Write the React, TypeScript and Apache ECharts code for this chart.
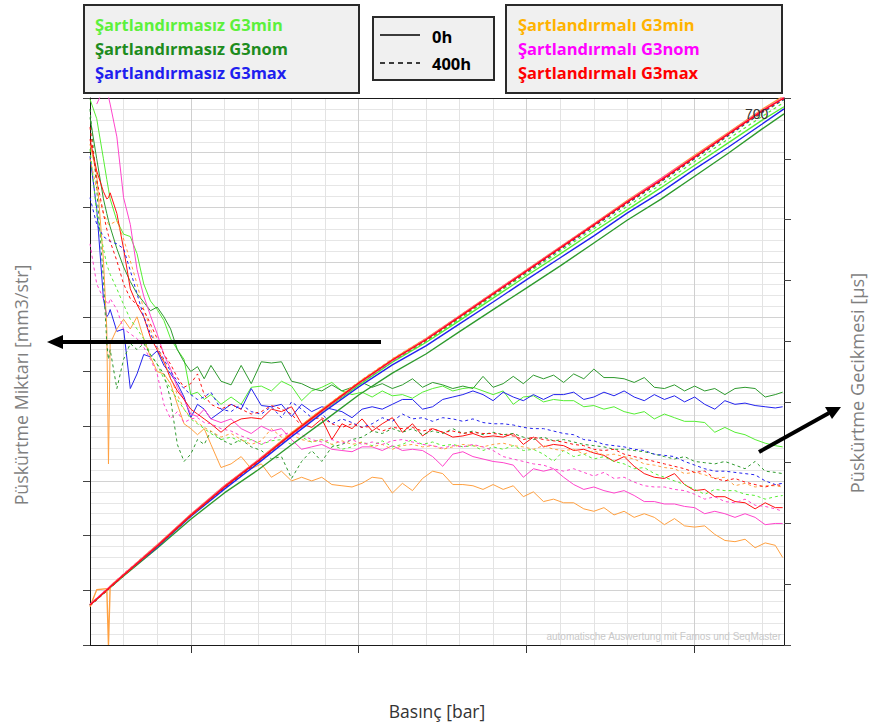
import React, { useEffect, useRef } from 'react';
import * as echarts from 'echarts';

// ---------- x values (Basınç, bar) ----------
const PRESSURE_BAR = [200,220,240,250,255,260,280,300,320,340,360,380,400,420,440,460,480,500,520,540,560,590,620,650,680,710,740,770,800,830,860,890,920,950,980,1010,1040,1070,1100,1130,1160,1190,1220,1250,1280,1310,1340,1370,1400,1430,1460,1490,1520,1550,1580,1610,1640,1670,1700,1730,1760,1790,1820,1850,1880,1910,1940,1970,2000,2030,2060,2090,2120,2150,2180,2210,2240,2262];
const QTY_PRESSURE = [200,220,250,255,260,300,400,500,600,700,800,900,1000,1100,1200,1300,1400,1500,1600,1700,1800,1900,2000,2100,2200,2266];

// ---------- Püskürtme Gecikmesi [µs] (right axis) ----------
const DELAY_SZ_MIN_0H = [699,683,650,633,625,617,599,588,586,572,547,533,526,517,502,493,485,456,458,452,456,448,454,448,462,463,459,467,463,451,459,462,466,459,456,458,454,459,455,456,453,458,461,463,459,461,462,459,456,459,448,454,455,450,452,451,451,446,447,444,446,442,440,442,436,440,437,434,434,433,425,429,425,423,419,416,414,413];
const DELAY_SZ_NOM_0H = [684,650,617,605,599,594,576,561,549,539,532,525,528,520,510,493,483,475,479,469,480,467,464,480,465,483,482,483,467,465,461,459,464,459,462,466,462,465,461,464,469,462,466,464,461,463,461,471,462,465,471,465,472,469,472,466,473,469,477,470,470,469,466,470,462,461,464,459,463,459,461,456,461,462,461,454,456,458];
const DELAY_SZ_MAX_0H = [652,609,535,520,522,526,508,510,461,473,489,487,492,480,473,465,454,437,448,444,436,442,448,444,461,447,446,448,438,448,442,446,444,442,437,444,446,444,448,452,452,444,446,452,454,456,459,456,451,458,454,451,456,452,456,456,458,452,454,458,455,459,454,451,456,452,455,450,454,448,444,451,448,449,447,446,445,446];
const DELAY_SL_MIN_0H = [662,637,567,510,399,498,510,518,510,520,502,487,475,473,465,448,432,428,423,428,415,396,399,405,395,399,388,393,385,388,385,388,382,381,380,383,388,387,375,383,377,387,393,391,382,382,381,378,382,378,381,372,376,368,370,367,367,362,360,363,357,360,355,358,355,349,354,348,347,348,341,336,335,337,330,334,332,322];
const DELAY_SL_NOM_0H = [null,695,707,706,701,695,668,618,596,559,537,521,506,489,477,462,452,440,438,444,436,433,436,428,424,430,426,428,419,411,413,415,411,410,409,413,413,410,414,410,411,410,405,397,407,409,405,403,401,400,398,388,395,393,395,388,382,378,380,377,375,377,373,368,368,366,366,364,363,358,360,358,355,358,355,349,350,350];
const DELAY_SL_MAX_0H = [666,640,623,617,618,622,605,576,543,530,520,503,493,483,469,459,452,444,440,436,432,425,432,436,437,436,444,442,446,432,429,436,419,432,428,436,426,432,437,425,432,422,428,425,421,422,424,421,422,421,424,415,421,413,415,414,410,411,408,406,401,405,397,391,388,387,391,382,377,378,372,372,368,367,362,367,363,363];
const DELAY_SZ_NOM_400H = [691,625,551,498,485,493,461,485,498,493,498,489,481,473,452,415,401,407,419,415,426,419,415,419,413,410,403,405,387,401,410,401,413,415,419,421,426,424,428,425,428,423,426,424,428,424,426,423,425,423,424,421,419,421,418,419,417,415,414,413,411,411,410,409,407,405,403,405,401,400,399,401,398,395,401,393,392,391];
const DELAY_SZ_MIN_400H = [658,605,576,563,559,555,543,530,518,510,502,489,481,469,461,452,444,436,432,428,424,419,421,417,419,415,418,419,415,421,417,419,415,411,413,417,414,418,413,415,419,415,417,414,415,413,414,410,413,411,414,410,411,407,401,410,405,407,403,405,401,399,395,396,391,388,385,382,378,374,378,377,377,374,373,370,372,373];
const DELAY_SZ_MAX_400H = [618,596,586,584,583,582,580,576,558,539,520,506,495,485,475,467,461,456,452,454,458,444,442,448,442,440,446,437,450,444,437,440,432,436,433,429,432,437,434,440,436,437,434,437,436,434,436,433,432,432,431,429,428,428,426,424,423,419,418,415,414,413,411,410,407,406,405,401,398,395,393,393,392,391,390,385,382,383];
const DELAY_SL_MIN_400H = [650,625,605,599,596,596,599,584,566,547,526,510,495,484,470,456,444,437,433,429,426,421,424,419,415,418,428,421,423,419,417,419,415,418,415,417,413,415,411,414,415,413,414,411,413,415,414,413,415,416,414,413,411,414,411,410,411,407,410,406,407,405,403,399,398,396,395,391,392,390,387,388,381,383,380,381,381,380];
const DELAY_SL_NOM_400H = [580,547,535,532,530,535,526,510,506,502,495,485,473,448,436,442,433,436,437,433,432,428,426,422,419,415,419,423,425,423,419,417,419,416,419,415,417,415,418,419,417,415,414,412,414,413,415,413,410,405,403,401,399,398,395,393,395,392,389,392,387,388,384,381,380,380,378,377,374,370,372,368,367,370,365,364,362,360];
const DELAY_SL_MAX_400H = [676,633,605,592,587,582,566,547,535,530,526,514,502,489,481,470,462,465,473,456,448,444,448,444,440,442,447,444,440,430,436,437,432,429,432,429,430,426,429,428,429,426,428,425,426,424,425,424,424,423,422,419,421,419,418,417,415,414,411,410,411,407,405,403,401,399,397,395,392,393,387,385,387,384,382,380,382,381];

// ---------- Püskürtme Miktarı (left axis) ----------
const QTY_SL_MAX_0H = [7.3,null,null,null,null,12.8,18.1,23.7,28.9,33.6,38.6,43.3,47.9,52.1,55.8,60.0,64.2,68.4,72.6,76.8,81.0,85.0,89.2,93.4,97.6,100.0];
const QTY_SL_NOM_0H = [7.4,null,null,null,null,12.9,18.2,23.8,29.0,33.7,38.5,43.2,47.8,52.0,55.9,60.1,64.3,68.5,72.7,76.9,81.1,85.2,89.3,93.5,97.7,100.1];
const QTY_SL_MIN_0H = [7.0,10.1,10.3,0,10.8,12.9,18.3,23.9,29.1,33.8,38.8,43.5,48.0,52.2,56.0,60.2,64.4,68.6,72.8,77.0,81.3,85.3,89.5,93.7,97.9,100.4];
const QTY_SZ_MIN_0H = [7.3,null,null,null,null,12.8,18.1,23.7,28.9,33.6,38.5,43.1,47.5,51.7,55.3,59.3,63.4,67.5,71.5,75.6,79.6,83.6,87.7,91.8,95.9,98.4];
const QTY_SZ_MAX_0H = [7.3,null,null,null,null,12.8,17.9,23.5,28.5,33.2,38.1,42.8,47.2,51.2,54.7,58.7,62.7,66.8,70.8,74.8,79.0,82.8,87.0,91.0,95.2,98.0];
const QTY_SZ_NOM_0H = [7.3,null,null,null,null,12.6,17.7,23.0,27.8,32.0,36.6,41.1,45.7,49.7,53.2,57.3,61.3,65.3,69.3,73.5,77.7,81.5,85.7,89.9,94.3,97.1];
const QTY_SL_MAX_400H = [7.2,null,null,null,null,12.7,18.0,23.6,28.8,33.5,38.5,43.2,47.8,52.0,55.7,59.9,64.1,68.3,72.5,76.7,80.9,84.9,89.1,93.3,97.5,99.9];
const QTY_SL_NOM_400H = [7.3,null,null,null,null,12.9,18.2,23.7,29.0,33.6,38.7,43.4,48.0,52.2,55.9,60.1,64.3,68.5,72.7,76.9,81.1,85.1,89.3,93.5,97.7,100.1];
const QTY_SL_MIN_400H = [7.4,null,null,null,null,13.0,18.3,23.8,29.1,33.7,38.8,43.5,48.1,52.3,56.0,60.2,64.4,68.6,72.8,77.0,81.2,85.2,89.4,93.6,97.8,100.2];
const QTY_SZ_MIN_400H = [7.3,null,null,null,null,12.8,18.1,23.7,28.9,33.6,38.6,43.2,47.7,51.9,55.5,59.6,63.8,67.9,72.0,76.1,80.2,84.2,88.4,92.5,96.6,99.2];
const QTY_SZ_MAX_400H = [7.3,null,null,null,null,12.8,18.0,23.6,28.8,33.5,38.5,43.2,47.8,51.9,55.6,59.8,64.0,68.2,72.4,76.6,80.8,84.8,89.0,93.2,97.4,99.8];
const QTY_SZ_NOM_400H = [7.2,null,null,null,null,12.7,18.0,23.6,28.8,33.5,38.5,43.2,47.7,51.9,55.6,59.7,63.9,68.1,72.3,76.5,80.7,84.7,88.9,93.1,97.3,99.7];

// ---------- axis ticks ----------
const X_MAJOR_TICKS = [500, 1000, 1500, 2000];

// ---------- legend texts ----------
const LEGEND_LEFT = ['Şartlandırmasız G3min', 'Şartlandırmasız G3nom', 'Şartlandırmasız G3max'];
const LEGEND_RIGHT = ['Şartlandırmalı G3min', 'Şartlandırmalı G3nom', 'Şartlandırmalı G3max'];
const LEGEND_MID = ['0h', '400h'];

const C = {
  lgreen: '#55EE33',
  dgreen: '#2E9A2E',
  blue: '#2222EE',
  orange: '#FFA040',
  magenta: '#FF44CC',
  red: '#FF1010',
};
const LEGEND_COLORS_LEFT = ['#5DF03C', '#1E8C1E', '#1F1FEF'];
const LEGEND_COLORS_RIGHT = ['#FFB300', '#FF00FF', '#FF0000'];

function pairs(xs: number[], ys: (number | null)[]) {
  const out: number[][] = [];
  for (let i = 0; i < xs.length; i++) {
    const v = ys[i];
    if (v !== null && v !== undefined) out.push([xs[i], v]);
  }
  return out;
}

const DASH = [3, 3];

export default function App() {
  const ref = useRef<HTMLDivElement>(null);
  useEffect(() => {
    document.body.style.margin = '0';
    const chart = echarts.init(ref.current!, null, { renderer: 'svg' });

    const fall = [
      { name: 'Şartlandırmasız G3min 0h', d: DELAY_SZ_MIN_0H, c: C.lgreen, dash: false },
      { name: 'Şartlandırmasız G3nom 0h', d: DELAY_SZ_NOM_0H, c: C.dgreen, dash: false },
      { name: 'Şartlandırmasız G3max 0h', d: DELAY_SZ_MAX_0H, c: C.blue, dash: false },
      { name: 'Şartlandırmalı G3min 0h', d: DELAY_SL_MIN_0H, c: C.orange, dash: false },
      { name: 'Şartlandırmalı G3nom 0h', d: DELAY_SL_NOM_0H, c: C.magenta, dash: false },
      { name: 'Şartlandırmalı G3max 0h', d: DELAY_SL_MAX_0H, c: C.red, dash: false },
      { name: 'Şartlandırmasız G3min 400h', d: DELAY_SZ_MIN_400H, c: C.lgreen, dash: true },
      { name: 'Şartlandırmasız G3nom 400h', d: DELAY_SZ_NOM_400H, c: C.dgreen, dash: true },
      { name: 'Şartlandırmasız G3max 400h', d: DELAY_SZ_MAX_400H, c: C.blue, dash: true },
      { name: 'Şartlandırmalı G3min 400h', d: DELAY_SL_MIN_400H, c: C.orange, dash: true },
      { name: 'Şartlandırmalı G3nom 400h', d: DELAY_SL_NOM_400H, c: C.magenta, dash: true },
      { name: 'Şartlandırmalı G3max 400h', d: DELAY_SL_MAX_400H, c: C.red, dash: true },
    ];
    const rise = [
      { name: 'Miktar SZ G3nom 0h', d: QTY_SZ_NOM_0H, c: C.dgreen, dash: false },
      { name: 'Miktar SZ G3max 0h', d: QTY_SZ_MAX_0H, c: C.blue, dash: false },
      { name: 'Miktar SZ G3min 0h', d: QTY_SZ_MIN_0H, c: C.lgreen, dash: false },
      { name: 'Miktar SZ G3nom 400h', d: QTY_SZ_NOM_400H, c: C.dgreen, dash: true },
      { name: 'Miktar SZ G3max 400h', d: QTY_SZ_MAX_400H, c: C.blue, dash: true },
      { name: 'Miktar SZ G3min 400h', d: QTY_SZ_MIN_400H, c: C.lgreen, dash: true },
      { name: 'Miktar SL G3min 400h', d: QTY_SL_MIN_400H, c: C.orange, dash: true },
      { name: 'Miktar SL G3nom 400h', d: QTY_SL_NOM_400H, c: C.magenta, dash: true },
      { name: 'Miktar SL G3max 400h', d: QTY_SL_MAX_400H, c: C.red, dash: true },
      { name: 'Miktar SL G3min 0h', d: QTY_SL_MIN_0H, c: C.orange, dash: false },
      { name: 'Miktar SL G3nom 0h', d: QTY_SL_NOM_0H, c: C.magenta, dash: false },
      { name: 'Miktar SL G3max 0h', d: QTY_SL_MAX_0H, c: C.red, dash: false },
    ];

    const series: any[] = [];
    fall.forEach((s) => {
      series.push({
        type: 'line', name: s.name, xAxisIndex: 0, yAxisIndex: 2,
        data: pairs(PRESSURE_BAR, s.d), symbol: 'none', silent: true, clip: true,
        lineStyle: { color: s.c, width: 1, type: s.dash ? DASH : 'solid' },
        itemStyle: { color: s.c }, z: 3,
      });
    });
    rise.forEach((s) => {
      series.push({
        type: 'line', name: s.name, xAxisIndex: 0, yAxisIndex: 0,
        data: pairs(QTY_PRESSURE, s.d), symbol: 'none', silent: true, clip: true,
        lineStyle: { color: s.c, width: s.dash ? 1.2 : 1.4, type: s.dash ? DASH : 'solid' },
        itemStyle: { color: s.c }, z: 3,
      });
    });

    const FONT = '"Open Sans", "Noto Sans", sans-serif';
    const elements: any[] = [];
    const box = (x: number, y: number, w: number, h: number) => ({
      type: 'rect', shape: { x, y, width: w, height: h }, z: 100,
      style: { fill: '#F0F0F0', stroke: '#2a2a2a', lineWidth: 2 },
    });
    elements.push(box(84, 5, 275, 88));
    elements.push(box(373, 17, 121, 63));
    elements.push(box(506, 5, 276, 88));
    LEGEND_LEFT.forEach((t, i) => {
      elements.push({
        type: 'text', z: 101, x: 95, y: 24 + i * 24,
        style: { text: t, fill: LEGEND_COLORS_LEFT[i], font: `bold 16.5px ${FONT}`, align: 'left', verticalAlign: 'middle', textAlign: 'left', textVerticalAlign: 'middle' },
      });
    });
    LEGEND_RIGHT.forEach((t, i) => {
      elements.push({
        type: 'text', z: 101, x: 518, y: 24 + i * 24,
        style: { text: t, fill: LEGEND_COLORS_RIGHT[i], font: `bold 16.5px ${FONT}`, align: 'left', verticalAlign: 'middle', textAlign: 'left', textVerticalAlign: 'middle' },
      });
    });
    elements.push({ type: 'line', z: 101, shape: { x1: 380, y1: 35, x2: 420, y2: 35 }, style: { stroke: '#000', lineWidth: 1.5 } });
    elements.push({ type: 'line', z: 101, shape: { x1: 380, y1: 63, x2: 420, y2: 63 }, style: { stroke: '#000', lineWidth: 1.5, lineDash: [5, 4] } });
    LEGEND_MID.forEach((t, i) => {
      elements.push({
        type: 'text', z: 101, x: 432, y: 36 + i * 27,
        style: { text: t, fill: '#000', font: `bold 16.5px ${FONT}`, align: 'left', verticalAlign: 'middle', textAlign: 'left', textVerticalAlign: 'middle' },
      });
    });
    elements.push({
      type: 'text', z: 50, x: 437, y: 711,
      style: { text: 'Basınç [bar]', fill: '#333', font: `17.5px ${FONT}`, align: 'center', verticalAlign: 'middle', textAlign: 'center', textVerticalAlign: 'middle' },
    });
    elements.push({
      type: 'text', z: 50, x: 21, y: 385, rotation: Math.PI / 2,
      style: { text: 'Püskürtme Miktarı [mm3/str]', fill: '#7F7F7F', font: `17.8px ${FONT}`, align: 'center', verticalAlign: 'middle', textAlign: 'center', textVerticalAlign: 'middle' },
    });
    elements.push({
      type: 'text', z: 50, x: 857, y: 383, rotation: Math.PI / 2,
      style: { text: 'Püskürtme Gecikmesi [µs]', fill: '#7F7F7F', font: `18.2px ${FONT}`, align: 'center', verticalAlign: 'middle', textAlign: 'center', textVerticalAlign: 'middle' },
    });
    elements.push({
      type: 'text', z: 50, x: 745, y: 114,
      style: { text: '700', fill: '#333', font: '14px "Liberation Sans", Arial, sans-serif', align: 'left', verticalAlign: 'middle', textAlign: 'left', textVerticalAlign: 'middle' },
    });
    elements.push({
      type: 'text', z: 50, x: 781, y: 636,
      style: { text: 'automatische Auswertung mit Famos und SeqMaster', fill: '#C8C8C8', font: '10px "Liberation Sans", Arial, sans-serif', align: 'right', verticalAlign: 'middle', textAlign: 'right', textVerticalAlign: 'middle' },
    });
    elements.push({ type: 'line', z: 60, shape: { x1: 381, y1: 342, x2: 60, y2: 342 }, style: { stroke: '#000', lineWidth: 4 } });
    elements.push({ type: 'polygon', z: 60, shape: { points: [[47, 342], [63, 335], [63, 349]] }, style: { fill: '#000' } });
    elements.push({ type: 'line', z: 60, shape: { x1: 759, y1: 452, x2: 829, y2: 413 }, style: { stroke: '#000', lineWidth: 4 } });
    elements.push({ type: 'polygon', z: 60, shape: { points: [[841, 407], [832, 419], [825, 407]] }, style: { fill: '#000' } });

    const hidden = { show: false };
    const option: any = {
      animation: false,
      backgroundColor: '#ffffff',
      grid: { left: 90, top: 98, width: 694, height: 547 },
      tooltip: { show: false },
      xAxis: [
        {
          type: 'value', min: 200, max: 2266, interval: 100, position: 'bottom', z: 0,
          axisLine: hidden, axisTick: hidden, axisLabel: hidden,
          splitLine: { show: true, lineStyle: { color: '#E3E3E3', width: 1 } },
        },
        {
          type: 'value', min: 200, max: 2266, position: 'bottom', z: 1,
          axisLine: { show: true, onZero: false, lineStyle: { color: '#1a1a1a', width: 1 } },
          axisTick: { show: true, customValues: X_MAJOR_TICKS, length: 8, inside: false, lineStyle: { color: '#333', width: 1 } },
          axisLabel: hidden,
          splitLine: { show: true, lineStyle: { color: '#CFCFCF', width: 1 } },
        },
        {
          type: 'value', min: 200, max: 2266, position: 'top', z: 1,
          axisLine: { show: true, onZero: false, lineStyle: { color: '#1a1a1a', width: 1 } },
          axisTick: hidden, axisLabel: hidden, splitLine: hidden,
        },
      ],
      yAxis: [
        {
          type: 'value', position: 'left', min: 0, max: 100, interval: 10, z: 1,
          axisLine: { show: true, onZero: false, lineStyle: { color: '#1a1a1a', width: 1 } },
          axisTick: { show: true, length: 7, inside: false, lineStyle: { color: '#444', width: 1 } },
          axisLabel: hidden,
          splitLine: { show: true, lineStyle: { color: '#D2D2D2', width: 1 } },
        },
        {
          type: 'value', position: 'left', min: 0, max: 100, interval: 2, z: 0,
          axisLine: hidden, axisTick: hidden, axisLabel: hidden,
          splitLine: { show: true, lineStyle: { color: '#E6E6E6', width: 1 } },
        },
        {
          type: 'value', position: 'right', min: 250, max: 700, interval: 50, z: 1,
          axisLine: { show: true, onZero: false, lineStyle: { color: '#1a1a1a', width: 1 } },
          axisTick: { show: true, length: 7, inside: false, lineStyle: { color: '#444', width: 1 } },
          axisLabel: hidden, splitLine: hidden,
        },
      ],
      series,
      graphic: { elements },
    };
    chart.setOption(option);
    return () => chart.dispose();
  }, []);
  return (
    <div
      ref={ref}
      style={{ position: 'absolute', left: 0, top: 0, width: 870, height: 728, background: '#fff' }}
    />
  );
}
